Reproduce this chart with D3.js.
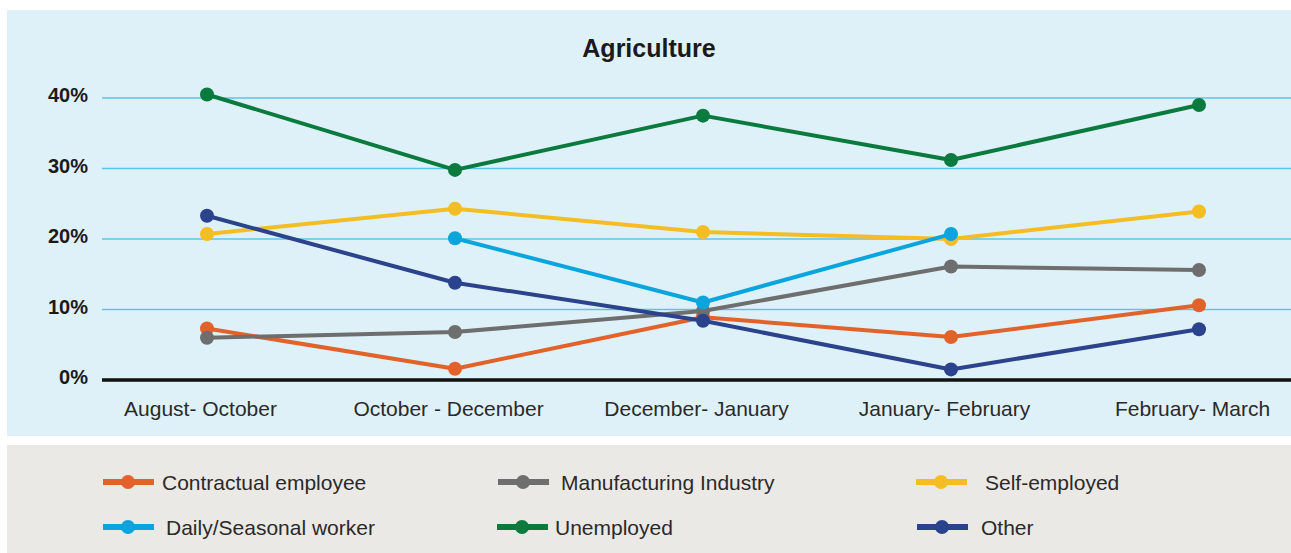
<!DOCTYPE html>
<html>
<head>
<meta charset="utf-8">
<script src="https://cdn.jsdelivr.net/npm/d3@7"></script>
<style>
  html, body { margin: 0; padding: 0; background: #ffffff; }
  svg { display: block; }
</style>
</head>
<body>
<svg id="chart" width="1291" height="553"></svg>
<script>
const categories = ["August- October", "October - December", "December- January", "January- February", "February- March"];
const yTicks = [0, 10, 20, 30, 40];
const seriesNames = ["Contractual employee", "Manufacturing Industry", "Self-employed", "Daily/Seasonal worker", "Unemployed", "Other"];
const contractual = [7.3, 1.6, 8.9, 6.1, 10.6];
const manufacturing = [6.0, 6.8, 9.8, 16.1, 15.6];
const selfEmployed = [20.7, 24.3, 21.0, 20.0, 23.9];
const dailySeasonal = [null, 20.1, 11.0, 20.7, null];
const unemployed = [40.5, 29.8, 37.5, 31.2, 39.0];
const other = [23.3, 13.8, 8.4, 1.5, 7.2];
const colors = ["#e2622a", "#6e6e6e", "#f5bd24", "#0aa5dd", "#0a7a3e", "#2b428c"];

const series = [
  { name: seriesNames[0], values: contractual, color: colors[0] },
  { name: seriesNames[1], values: manufacturing, color: colors[1] },
  { name: seriesNames[2], values: selfEmployed, color: colors[2] },
  { name: seriesNames[3], values: dailySeasonal, color: colors[3] },
  { name: seriesNames[4], values: unemployed, color: colors[4] },
  { name: seriesNames[5], values: other, color: colors[5] }
];

const svg = d3.select("#chart");
const font = "'Liberation Sans', Arial, Helvetica, sans-serif";

// panels
svg.append("rect").attr("x", 7).attr("y", 10).attr("width", 1284).attr("height", 426).attr("fill", "#dff1f8");
svg.append("rect").attr("x", 7).attr("y", 445).attr("width", 1284).attr("height", 108).attr("fill", "#eae9e6");

const x = d3.scalePoint().domain(categories).range([207, 1199]);
const y = d3.scaleLinear().domain([0, 40]).range([380, 98]);
const gridLeft = 102, gridRight = 1291;

// title
svg.append("text").attr("x", 649).attr("y", 57).attr("text-anchor", "middle")
  .attr("font-family", font).attr("font-weight", "bold").attr("font-size", 25)
  .attr("fill", "#1a1a1a").text("Agriculture");

// grid lines
svg.append("g").selectAll("line").data(yTicks.filter(d => d > 0)).join("line")
  .attr("x1", gridLeft).attr("x2", gridRight)
  .attr("y1", d => y(d)).attr("y2", d => y(d))
  .attr("stroke", "#5cc5e6").attr("stroke-width", 1.5);

// y labels
svg.append("g").selectAll("text").data(yTicks).join("text")
  .attr("x", 88).attr("y", d => y(d) + 4).attr("text-anchor", "end")
  .attr("font-family", font).attr("font-weight", "bold").attr("font-size", 20)
  .attr("fill", "#1a1a1a").text(d => d + "%");

// x axis labels
const xAxis = d3.axisBottom(x).tickSize(0).tickPadding(0);
const gx = svg.append("g").attr("transform", "translate(-7,416)").call(xAxis);
gx.select(".domain").remove();
gx.selectAll("text").attr("dy", 0).attr("font-family", font).attr("font-size", 21).attr("fill", "#2a2a2a");

// zero baseline
svg.append("line").attr("x1", gridLeft).attr("x2", gridRight)
  .attr("y1", y(0)).attr("y2", y(0)).attr("stroke", "#111").attr("stroke-width", 3.5);

// lines
const line = d3.line()
  .defined(d => d.v !== null)
  .x(d => x(d.c)).y(d => y(d.v));

series.forEach(s => {
  const pts = s.values.map((v, i) => ({ c: categories[i], v: v }));
  const g = svg.append("g");
  g.append("path").datum(pts).attr("d", line)
    .attr("fill", "none").attr("stroke", s.color).attr("stroke-width", 4)
    .attr("stroke-linejoin", "round");
  g.selectAll("circle").data(pts.filter(d => d.v !== null)).join("circle")
    .attr("cx", d => x(d.c)).attr("cy", d => y(d.v)).attr("r", 7)
    .attr("fill", s.color);
});

// legend
const legendPos = [
  { lx: 103, tx: 162, y: 482 },
  { lx: 498, tx: 561, y: 482 },
  { lx: 916, tx: 985, y: 482 },
  { lx: 103, tx: 166, y: 527 },
  { lx: 497, tx: 555, y: 527 },
  { lx: 917, tx: 981, y: 527 }
];
series.forEach((s, i) => {
  const p = legendPos[i];
  const g = svg.append("g");
  g.append("line").attr("x1", p.lx).attr("x2", p.lx + 51).attr("y1", p.y).attr("y2", p.y)
    .attr("stroke", s.color).attr("stroke-width", 6);
  g.append("circle").attr("cx", p.lx + 25).attr("cy", p.y).attr("r", 7).attr("fill", s.color);
  g.append("text").attr("x", p.tx).attr("y", p.y + 8)
    .attr("font-family", font).attr("font-size", 21).attr("fill", "#2a2a2a").text(s.name);
});
</script>
</body>
</html>
